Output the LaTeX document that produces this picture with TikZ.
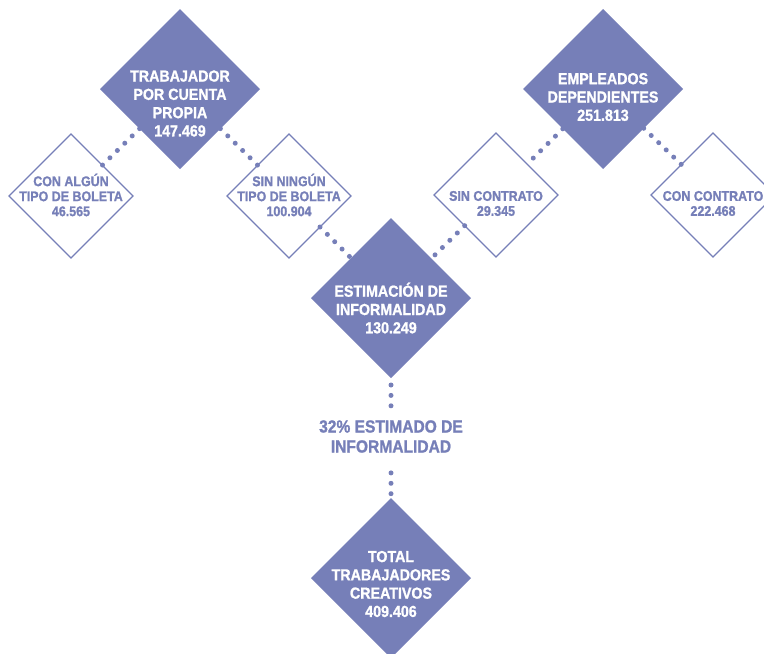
\documentclass[tikz,border=0pt]{standalone}
\usepackage{fontspec}
\setmainfont{Liberation Sans}[FakeStretch=0.89, BoldFeatures={FakeBold=1.2}]
\usetikzlibrary{shapes.geometric}
\definecolor{lav}{RGB}{118,127,184}
\begin{document}
\begin{tikzpicture}[x=1pt,y=-1pt,
 bigd/.style={diamond, aspect=1, fill=lav, draw=none, minimum width=160pt, minimum height=160pt, inner sep=0pt, outer sep=0pt},
 smalld/.style={diamond, aspect=1, fill=white, draw=lav, line width=1.3pt, minimum width=124pt, minimum height=124pt, inner sep=0pt, outer sep=0pt},
 bigt/.style={text=white, font=\bfseries\fontsize{16}{18.3}\selectfont, align=center, inner sep=0pt},
 smallt/.style={text=lav, font=\bfseries\fontsize{14}{15}\selectfont, align=center, inner sep=0pt},
 midt/.style={text=lav, font=\bfseries\fontsize{17.5}{20}\selectfont, align=center, inner sep=0pt},
 dotline/.style={draw=lav, line width=5pt, line cap=round, dash pattern=on 0pt off 10.4pt}]
\useasboundingbox (0,0) rectangle (764,654);
\clip (0,0) rectangle (764,654);
% diamonds
\node[smalld] (conalg) at (71,196) {};
\node[smalld] (sinnin) at (289,196) {};
\node[smalld] (sincon) at (496,195) {};
\node[smalld] (concon) at (713,195) {};
\node[bigd] (trab) at (180,89) {};
\node[bigd] (emp) at (603,89) {};
\node[bigd] (est) at (391,298) {};
\node[bigd] (tot) at (391,578) {};
% labels
\node[bigt] (trabt) at (180,103.5) {TRABAJADOR\\POR CUENTA\\PROPIA\\147.469};
\node[bigt] (empt) at (603,97) {EMPLEADOS\\DEPENDIENTES\\251.813};
\node[bigt] (estt) at (391,308) {ESTIMACIÓN DE\\INFORMALIDAD\\130.249};
\node[bigt] (tott) at (391,584) {TOTAL\\TRABAJADORES\\CREATIVOS\\409.406};
\node[smallt] (conalgt) at (71,195) {CON ALGÚN\\TIPO DE BOLETA\\46.565};
\node[smallt] (sinnint) at (289,195) {SIN NINGÚN\\TIPO DE BOLETA\\100.904};
\node[smallt] (sincont) at (496,203.5) {SIN CONTRATO\\29.345};
\node[smallt] (concont) at (713,203.5) {CON CONTRATO\\222.468};
\node[midt] (pct) at (391,436.5) {32\% ESTIMADO DE\\INFORMALIDAD};
% connectors
\draw[dotline] (trab) -- (conalg);
\draw[dotline] (trab) -- (sinnin);
\draw[dotline] (sinnin) -- (est);
\draw[dotline] (emp) -- (sincon);
\draw[dotline] (emp) -- (concon);
\draw[dotline] (sincon) -- (est);
\draw[dotline, shorten <=7pt, shorten >=14pt] (est.south) -- (pct.north);
\draw[dotline, shorten <=20pt, shorten >=4pt] (pct.south) -- (tot.north);
\end{tikzpicture}
\end{document}
